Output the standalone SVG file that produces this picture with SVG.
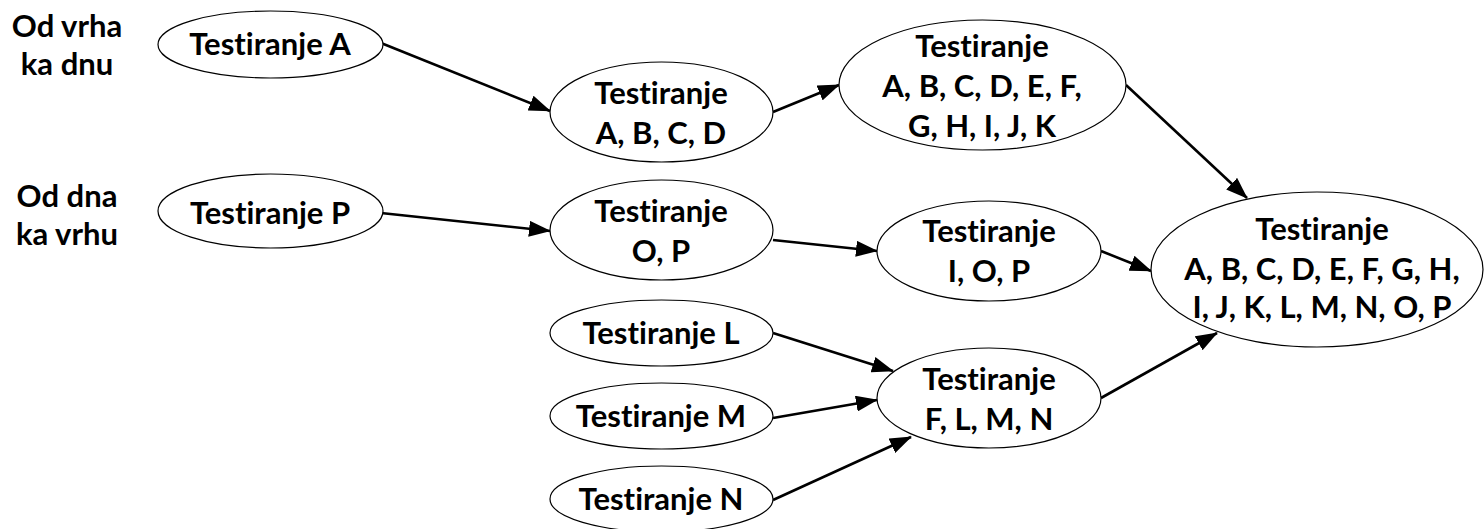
<svg xmlns="http://www.w3.org/2000/svg" width="1484" height="529" viewBox="0 0 1484 529">
  <style>
    .node { fill: #ffffff; stroke: #000000; stroke-width: 1.2; }
    .label { font-family: Lato, "Open Sans", "Liberation Sans", sans-serif; font-weight: bold; font-size: 31px; fill: #000000; text-anchor: middle; font-variant-ligatures: none; }
    .edge { stroke: #000000; stroke-width: 2.6; fill: none; marker-end: url(#head); }
  </style>
  <defs>
    <marker id="head" markerUnits="userSpaceOnUse" markerWidth="22" markerHeight="16" refX="21" refY="8" orient="auto">
      <path d="M0,0 L22,8 L0,16 Z" fill="#000000"/>
    </marker>
  </defs>
  <rect width="1484" height="529" fill="#ffffff"/>

  <!-- side captions -->
  <g id="caption-top-down">
    <text class="label" x="67" y="37">Od vrha</text>
    <text class="label" x="67" y="75">ka dnu</text>
  </g>
  <g id="caption-bottom-up">
    <text class="label" x="67" y="207">Od dna</text>
    <text class="label" x="67" y="245">ka vrhu</text>
  </g>

  <!-- connectors -->
  <g id="connectors">
    <line class="edge" x1="381" y1="43" x2="550" y2="111"/>
    <line class="edge" x1="773" y1="112" x2="839" y2="85"/>
    <line class="edge" x1="1126" y1="85" x2="1247" y2="198"/>
    <line class="edge" x1="381" y1="213" x2="550" y2="231"/>
    <line class="edge" x1="773" y1="240" x2="877" y2="251"/>
    <line class="edge" x1="1101" y1="251" x2="1151" y2="271"/>
    <line class="edge" x1="773" y1="333" x2="893" y2="371"/>
    <line class="edge" x1="773" y1="418" x2="877" y2="400"/>
    <line class="edge" x1="773" y1="500" x2="911" y2="437"/>
    <line class="edge" x1="1101" y1="398" x2="1217" y2="333"/>
  </g>

  <!-- nodes -->
  <g id="node-a">
    <ellipse class="node" cx="270.5" cy="44.5" rx="112.5" ry="33.5"/>
    <text class="label" x="270" y="55">Testiranje A</text>
  </g>
  <g id="node-abcd">
    <ellipse class="node" cx="661.5" cy="112" rx="111.5" ry="50"/>
    <text class="label" x="661" y="104">Testiranje</text>
    <text class="label" x="661" y="144">A, B, C, D</text>
  </g>
  <g id="node-a-k">
    <ellipse class="node" cx="982.5" cy="85" rx="143.5" ry="65"/>
    <text class="label" x="982" y="57">Testiranje</text>
    <text class="label" x="982" y="97">A, B, C, D, E, F,</text>
    <text class="label" x="982" y="137">G, H, I, J, K</text>
  </g>
  <g id="node-p">
    <ellipse class="node" cx="270.5" cy="211" rx="112.5" ry="37"/>
    <text class="label" x="270" y="224">Testiranje P</text>
  </g>
  <g id="node-op">
    <ellipse class="node" cx="661.5" cy="230" rx="111.5" ry="50"/>
    <text class="label" x="661" y="222">Testiranje</text>
    <text class="label" x="661" y="262">O, P</text>
  </g>
  <g id="node-iop">
    <ellipse class="node" cx="989" cy="251" rx="112" ry="50"/>
    <text class="label" x="989" y="242">Testiranje</text>
    <text class="label" x="989" y="282">I, O, P</text>
  </g>
  <g id="node-l">
    <ellipse class="node" cx="661.5" cy="333" rx="111.5" ry="33"/>
    <text class="label" x="661" y="344">Testiranje L</text>
  </g>
  <g id="node-m">
    <ellipse class="node" cx="661.5" cy="416" rx="111.5" ry="33"/>
    <text class="label" x="661" y="427">Testiranje M</text>
  </g>
  <g id="node-n">
    <ellipse class="node" cx="661.5" cy="499" rx="111.5" ry="33"/>
    <text class="label" x="661" y="510">Testiranje N</text>
  </g>
  <g id="node-flmn">
    <ellipse class="node" cx="989" cy="398" rx="112" ry="50"/>
    <text class="label" x="989" y="390">Testiranje</text>
    <text class="label" x="989" y="430">F, L, M, N</text>
  </g>
  <g id="node-all">
    <ellipse class="node" cx="1317" cy="269.5" rx="166" ry="77.5"/>
    <text class="label" x="1322" y="240">Testiranje</text>
    <text class="label" x="1322" y="280">A, B, C, D, E, F, G, H,</text>
    <text class="label" x="1322" y="318">I, J, K, L, M, N, O, P</text>
  </g>
</svg>
